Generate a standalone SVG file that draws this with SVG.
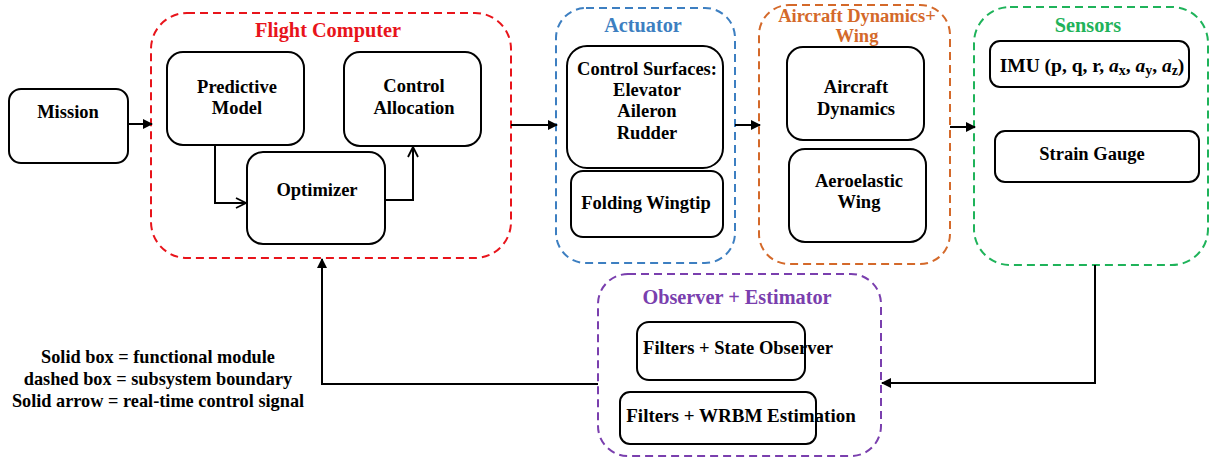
<svg xmlns="http://www.w3.org/2000/svg" width="1210" height="459" viewBox="0 0 1210 459">
<style>
text{font-family:'Liberation Serif','DejaVu Serif',serif;font-weight:700;text-anchor:middle;fill:#000}
.n{font-size:18.5px}
.box{fill:#fff;stroke:#000;stroke-width:2}
.grp{fill:none;stroke-width:2;stroke-dasharray:8 5}
.ln{fill:none;stroke:#000;stroke-width:2}
.t{font-size:20.3px}
.lg{font-size:18.3px}
</style>
<defs>
<marker id="fa" viewBox="0 0 10 10" refX="9" refY="5" markerWidth="10" markerHeight="10" markerUnits="userSpaceOnUse" orient="auto">
<path d="M0,0 L10,5 L0,10 z" fill="#000"/>
</marker>
<marker id="oa" viewBox="0 0 12 12" refX="11" refY="6" markerWidth="12" markerHeight="12" markerUnits="userSpaceOnUse" orient="auto">
<path d="M1,1 L11,6 L1,11" fill="none" stroke="#000" stroke-width="1.8"/>
</marker>
</defs>
<rect width="1210" height="459" fill="#fff"/>

<g id="flight-computer">
<rect class="grp" x="151" y="13" width="360" height="245" rx="36" stroke="#e8141b"/>
<text class="t" x="328" y="37" style="fill:#e8141b">Flight Computer</text>
</g>
<g id="actuator">
<rect class="grp" x="556" y="8" width="179" height="255" rx="30" stroke="#3d7fc1"/>
<text class="t" x="643" y="32" style="fill:#3d7fc1">Actuator</text>
</g>
<g id="aircraft-dynamics-wing">
<rect class="grp" x="759" y="5" width="191" height="259" rx="30" stroke="#d4692a"/>
<text x="857" y="22" style="fill:#d4692a;font-size:18.5px">Aircraft Dynamics+</text>
<text x="857" y="42" style="fill:#d4692a;font-size:18.5px">Wing</text>
</g>
<g id="sensors">
<rect class="grp" x="974" y="7" width="234" height="258" rx="36" stroke="#1fb35a"/>
<text class="t" x="1088" y="32" style="fill:#1fb35a">Sensors</text>
</g>
<g id="observer-estimator">
<rect class="grp" x="598" y="274" width="283" height="182" rx="30" stroke="#7a3fae"/>
<text class="t" x="737" y="304" style="fill:#7a3fae">Observer + Estimator</text>
</g>

<g id="mission">
<rect class="box" x="9" y="89" width="119" height="74" rx="12"/>
<text class="n" x="68" y="118">Mission</text>
</g>
<g id="predictive-model">
<rect class="box" x="167" y="52" width="137" height="93" rx="16"/>
<text class="n" x="237" y="93">Predictive</text>
<text class="n" x="237" y="114">Model</text>
</g>
<g id="control-allocation">
<rect class="box" x="344" y="52" width="137" height="94" rx="16"/>
<text class="n" x="414" y="92">Control</text>
<text class="n" x="414" y="114">Allocation</text>
</g>
<g id="optimizer">
<rect class="box" x="247" y="152" width="138" height="92" rx="16"/>
<text class="n" x="317" y="196">Optimizer</text>
</g>
<g id="control-surfaces">
<rect class="box" x="567" y="46" width="156" height="122" rx="20"/>
<text class="n" x="647" y="75">Control Surfaces:</text>
<text class="n" x="647" y="96">Elevator</text>
<text class="n" x="647" y="117">Aileron</text>
<text class="n" x="647" y="139">Rudder</text>
</g>
<g id="folding-wingtip">
<rect class="box" x="571" y="171" width="152" height="66" rx="12"/>
<text class="n" x="646" y="209">Folding Wingtip</text>
</g>
<g id="aircraft-dynamics">
<rect class="box" x="787" y="47" width="137" height="93" rx="16"/>
<text class="n" x="856" y="93">Aircraft</text>
<text class="n" x="856" y="115">Dynamics</text>
</g>
<g id="aeroelastic-wing">
<rect class="box" x="789" y="149" width="137" height="93" rx="16"/>
<text class="n" x="859" y="187">Aeroelastic</text>
<text class="n" x="859" y="208">Wing</text>
</g>
<g id="imu">
<rect class="box" x="990" y="41" width="199" height="46" rx="10"/>
<text x="1092" y="72" style="font-size:19.5px">IMU (p, q, r, <tspan font-style="italic">a</tspan><tspan font-size="14" dy="3">x</tspan><tspan dy="-3">, </tspan><tspan font-style="italic">a</tspan><tspan font-size="14" dy="3">y</tspan><tspan dy="-3">, </tspan><tspan font-style="italic">a</tspan><tspan font-size="14" dy="3">z</tspan><tspan dy="-3">)</tspan></text>
</g>
<g id="strain-gauge">
<rect class="box" x="995" y="131" width="204" height="51" rx="10"/>
<text class="n" x="1092" y="160">Strain Gauge</text>
</g>
<g id="filters-state-observer">
<rect class="box" x="637" y="322" width="168" height="58" rx="12"/>
<text class="n" x="738" y="354">Filters + State Observer</text>
</g>
<g id="filters-wrbm">
<rect class="box" x="620" y="392" width="196" height="52" rx="10"/>
<text class="n" x="741" y="422" style="font-size:19px">Filters + WRBM Estimation</text>
</g>

<g id="legend">
<text class="lg" x="158" y="363">Solid box = functional module</text>
<text class="lg" x="158" y="385">dashed box = subsystem boundary</text>
<text class="lg" x="158" y="407">Solid arrow = real-time control signal</text>
</g>

<g id="connectors">
<path class="ln" d="M128,124 H152" marker-end="url(#fa)"/>
<path class="ln" d="M215,145 V203 H246" marker-end="url(#oa)"/>
<path class="ln" d="M385,200 H413 V147" marker-end="url(#oa)"/>
<path class="ln" d="M511,125 H557" marker-end="url(#fa)"/>
<path class="ln" d="M735,125 H760" marker-end="url(#fa)"/>
<path class="ln" d="M950,127 H975" marker-end="url(#fa)"/>
<path class="ln" d="M1095,265 V383 H882" marker-end="url(#fa)"/>
<path class="ln" d="M598,384 H322 V259" marker-end="url(#fa)"/>
</g>
</svg>
